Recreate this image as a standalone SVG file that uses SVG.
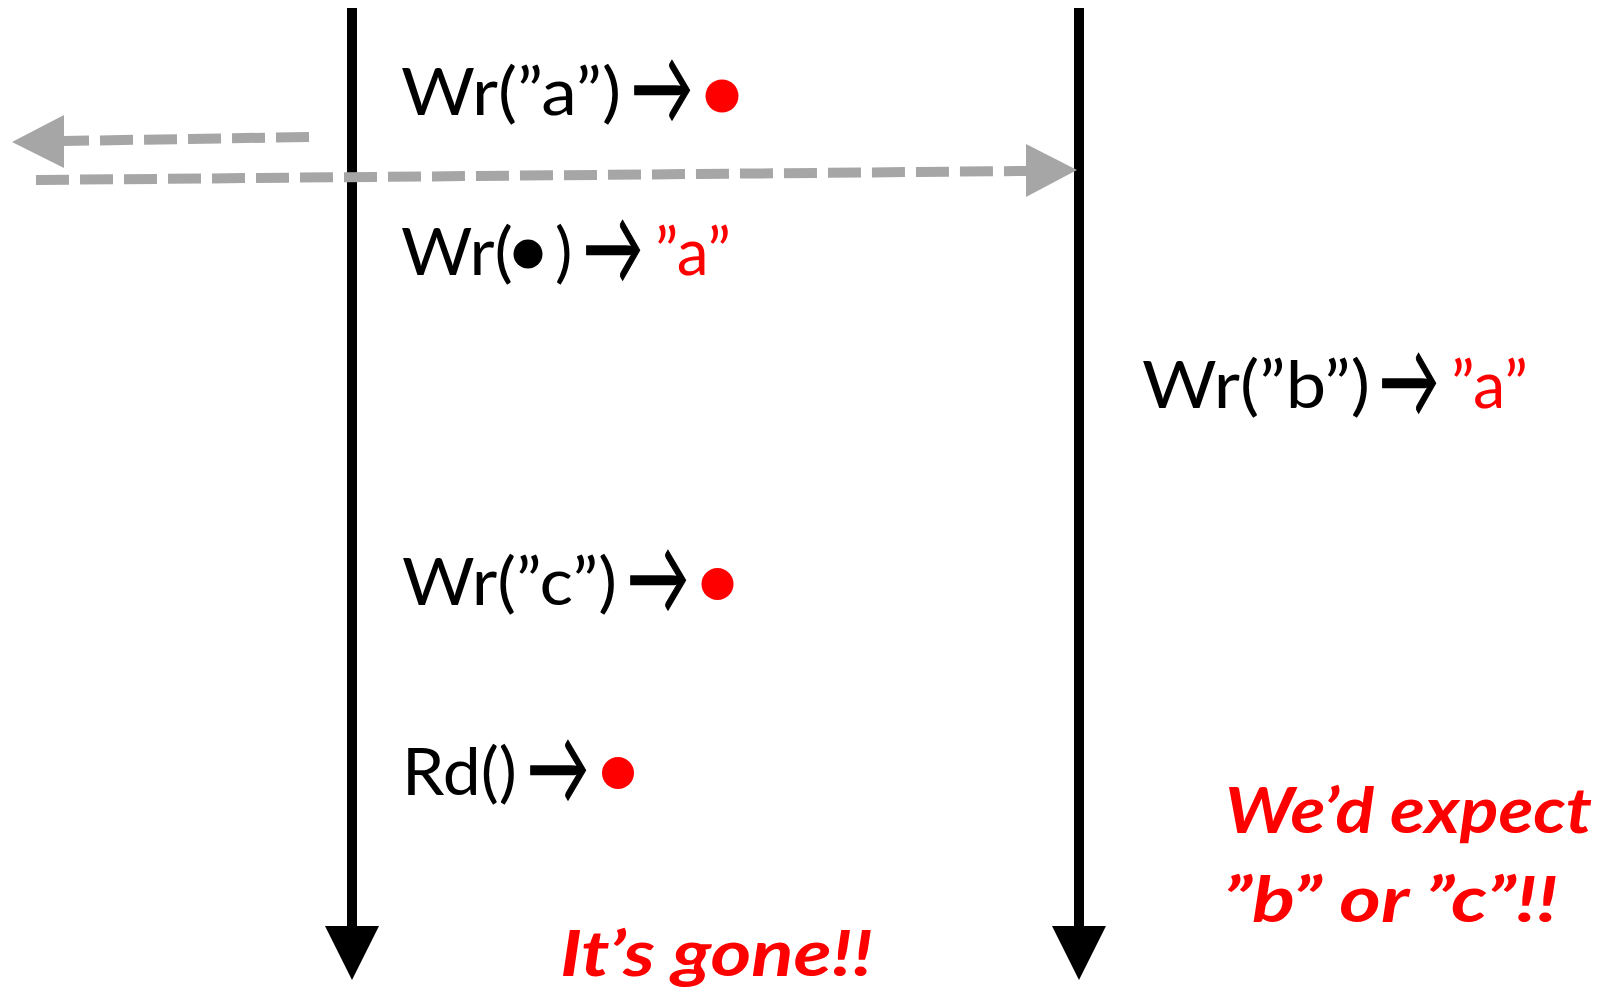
<svg xmlns="http://www.w3.org/2000/svg" width="1614" height="991" viewBox="0 0 1614 991">
<style>
.t{font-family:Lato,"Open Sans","Liberation Sans",sans-serif;font-size:65px;fill:#000}
.r{fill:#ff0000}
.ar{font-family:Lato,"Open Sans",sans-serif;font-size:105px;fill:#000;stroke:#000;stroke-width:1.5}
.em{font-family:Lato,"Open Sans","Liberation Sans",sans-serif;font-size:64px;font-weight:bold;font-style:italic;fill:#ff0000}
.life{stroke:#000;stroke-width:10;fill:none}
.msg{stroke:#a6a6a6;stroke-width:10;stroke-dasharray:33 11;fill:none}
</style>
<g id="connectors">
<line class="life" x1="352" y1="8" x2="352" y2="930"/>
<path d="M325,926 L379,926 L352,980 Z" fill="#000"/>
<line class="life" x1="1079" y1="8" x2="1079" y2="930"/>
<path d="M1052,926 L1106,926 L1079,980 Z" fill="#000"/>
<line class="msg" x1="309" y1="137" x2="64" y2="141"/>
<path d="M64,115 L12,142 L64,168 Z" fill="#a6a6a6"/>
<line class="msg" x1="36" y1="180" x2="1028" y2="171"/>
<path d="M1026,144 L1077,170 L1026,197 Z" fill="#a6a6a6"/>
</g>
<g id="op1">
<text class="t" x="401" y="115" textLength="220" lengthAdjust="spacingAndGlyphs">Wr(”a”)</text>
<text class="ar" x="631" y="124" textLength="62" lengthAdjust="spacingAndGlyphs">→</text>
<circle cx="722" cy="96" r="16.5" fill="#ff0000"/>
</g>
<g id="op2">
<text class="t" x="401" y="275" textLength="112" lengthAdjust="spacingAndGlyphs">Wr(</text>
<circle cx="528" cy="254" r="14.5" fill="#000"/>
<text class="t" x="555" y="275">)</text>
<text class="ar" x="583" y="284" textLength="60" lengthAdjust="spacingAndGlyphs">→</text>
<text class="t r" x="655" y="275" textLength="76" lengthAdjust="spacingAndGlyphs">”a”</text>
</g>
<g id="op3">
<text class="t" x="1142" y="408" textLength="228" lengthAdjust="spacingAndGlyphs">Wr(”b”)</text>
<text class="ar" x="1379" y="417" textLength="60" lengthAdjust="spacingAndGlyphs">→</text>
<text class="t r" x="1451" y="408" textLength="77" lengthAdjust="spacingAndGlyphs">”a”</text>
</g>
<g id="op4">
<text class="t" x="402" y="605" textLength="215" lengthAdjust="spacingAndGlyphs">Wr(”c”)</text>
<text class="ar" x="627" y="614" textLength="62" lengthAdjust="spacingAndGlyphs">→</text>
<circle cx="717.5" cy="584" r="16" fill="#ff0000"/>
</g>
<g id="op5">
<text class="t" x="402" y="795" textLength="115" lengthAdjust="spacingAndGlyphs">Rd()</text>
<text class="ar" x="527" y="804" textLength="62" lengthAdjust="spacingAndGlyphs">→</text>
<circle cx="618" cy="773" r="16" fill="#ff0000"/>
</g>
<g id="note1">
<text class="em" x="560" y="976" textLength="313" lengthAdjust="spacingAndGlyphs">It’s gone!!</text>
</g>
<g id="note2">
<text class="em" x="1225" y="833" textLength="367" lengthAdjust="spacingAndGlyphs">We’d expect</text>
<text class="em" x="1223" y="922" textLength="335" lengthAdjust="spacingAndGlyphs">”b” or ”c”!!</text>
</g>
</svg>
